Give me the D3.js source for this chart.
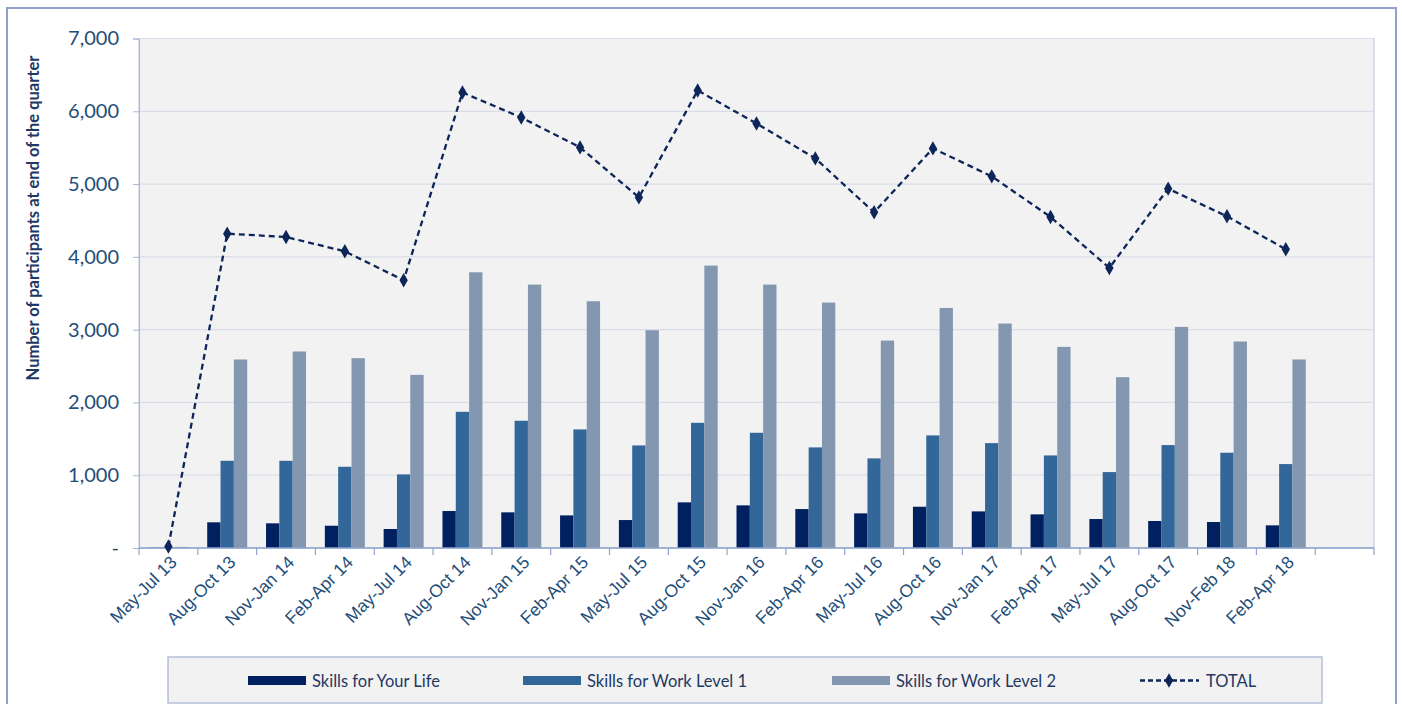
<!DOCTYPE html>
<html><head><meta charset="utf-8">
<script src="https://cdn.jsdelivr.net/npm/d3@7"></script>
<style>
html,body{margin:0;padding:0;background:#fff;}
svg{display:block;font-family:Lato,"Open Sans",sans-serif;}
</style></head>
<body>
<svg id="c" width="1402" height="704"></svg>
<script>
const categories = ["May-Jul 13","Aug-Oct 13","Nov-Jan 14","Feb-Apr 14","May-Jul 14","Aug-Oct 14","Nov-Jan 15","Feb-Apr 15","May-Jul 15","Aug-Oct 15","Nov-Jan 16","Feb-Apr 16","May-Jul 16","Aug-Oct 16","Nov-Jan 17","Feb-Apr 17","May-Jul 17","Aug-Oct 17","Nov-Feb 18","Feb-Apr 18"];
const skillsYourLife = [5,353,339,306,261,508,490,448,384,627,586,535,476,567,503,462,398,371,357,311];
const skillsWorkL1   = [8,1198,1198,1116,1011,1871,1748,1629,1409,1720,1583,1382,1231,1547,1441,1272,1043,1414,1309,1153];
const skillsWorkL2   = [15,2590,2700,2608,2379,3788,3619,3390,2992,3880,3619,3372,2850,3298,3084,2763,2347,3038,2837,2590];
const total          = [20,4319,4273,4076,3678,6258,5915,5504,4817,6286,5833,5353,4612,5490,5106,4548,3848,4937,4557,4104];
const seriesNames = ["Skills for Your Life","Skills for Work Level 1","Skills for Work Level 2"];
const totalName = "TOTAL";
const yTicks = [0,1000,2000,3000,4000,5000,6000,7000];
const yTitle = "Number of participants at end of the quarter";

const colors = ["#002060","#336699","#8497b0"];
const lineColor = "#0d2559";
const textColor = "#1f4e79";

const svg = d3.select("#c");
svg.append("rect").attr("x",7).attr("y",8).attr("width",1389).attr("height",704)
  .attr("fill","#fff").attr("stroke","#8ea2c8").attr("stroke-width",2);

const L=139, R=1374, T=38.5, B=548;
const domain = categories.concat(["_end"]);
const x = d3.scaleBand().domain(domain).range([L,R]).padding(0);
const y = d3.scaleLinear().domain([0,7000]).range([B,T]);
const bw = x.bandwidth();
const xs = d3.scaleBand().domain(seriesNames).range([bw*0.16, bw*0.84]).padding(0);

svg.append("rect").attr("x",L).attr("y",T).attr("width",R-L).attr("height",B-T)
  .attr("fill","#f2f2f2").attr("stroke","#b9c4dc").attr("stroke-width",1);

svg.append("g").selectAll("line").data(yTicks.filter(d=>d>0)).join("line")
  .attr("x1",L).attr("x2",R).attr("y1",d=>y(d)).attr("y2",d=>y(d))
  .attr("stroke","#d8dde8").attr("stroke-width",1.2);

const yAxis = svg.append("g").attr("transform",`translate(${L},0)`)
  .call(d3.axisLeft(y).tickValues(yTicks).tickSize(6).tickPadding(14)
    .tickFormat(d=> d===0 ? "-" : d3.format(",")(d)));
yAxis.select(".domain").attr("stroke","#a9b6d4");
yAxis.selectAll(".tick line").attr("stroke","#a9b6d4");
yAxis.selectAll("text").attr("fill",textColor).style("font-size","20px").style("font-family","Lato");

svg.append("text").attr("transform","translate(39,218) rotate(-90)")
  .attr("text-anchor","middle").attr("fill","#1f3864")
  .style("font-size","16.5px").style("font-weight","bold").text(yTitle);

const seriesData = [skillsYourLife, skillsWorkL1, skillsWorkL2];
seriesData.forEach((vals,si)=>{
  svg.append("g").selectAll("rect").data(vals).join("rect")
    .attr("x",(d,i)=>x(categories[i])+xs(seriesNames[si]))
    .attr("width",xs.bandwidth())
    .attr("y",d=>y(d)).attr("height",d=>B-y(d))
    .attr("fill",colors[si]);
});

const xAxis = svg.append("g").attr("transform",`translate(0,${B})`)
  .call(d3.axisBottom(x).tickValues(categories).tickSize(0).tickPadding(10));
xAxis.select(".domain").remove();
xAxis.selectAll("text").attr("fill",textColor).style("font-size","17.5px")
  .attr("text-anchor","end").attr("dy","0.35em")
  .attr("transform","translate(-2,4) rotate(-45)");
svg.append("line").attr("x1",L).attr("x2",R).attr("y1",B).attr("y2",B)
  .attr("stroke","#8ea4cc").attr("stroke-width",1.5);
svg.append("g").selectAll("line").data(domain.map(d=>x(d)).concat([R])).join("line")
  .attr("x1",d=>d).attr("x2",d=>d).attr("y1",B).attr("y2",B+7)
  .attr("stroke","#8ea4cc").attr("stroke-width",1.2);

const line = d3.line().x((d,i)=>x(categories[i])+bw/2).y(d=>y(d));
svg.append("path").datum(total).attr("d",line).attr("fill","none")
  .attr("stroke",lineColor).attr("stroke-width",2.3).attr("stroke-dasharray","6,4");
const diamond = d3.symbol().type(d3.symbolDiamond).size(60);
svg.append("g").selectAll("path").data(total).join("path")
  .attr("d",diamond).attr("transform",(d,i)=>`translate(${x(categories[i])+bw/2},${y(d)})`)
  .attr("fill",lineColor);

svg.append("rect").attr("x",168).attr("y",657).attr("width",1154).attr("height",46)
  .attr("fill","#f2f2f2").attr("stroke","#b4c0d8").attr("stroke-width",1.5);
const legX = [248,523,832];
seriesNames.forEach((n,i)=>{
  svg.append("rect").attr("x",legX[i]).attr("y",676).attr("width",58).attr("height",9).attr("fill",colors[i]);
  svg.append("text").attr("x",legX[i]+64).attr("y",681).attr("dy","0.35em")
    .attr("fill","#1f3864").style("font-size","16.5px").text(n);
});
svg.append("line").attr("x1",1140).attr("x2",1199).attr("y1",680.5).attr("y2",680.5)
  .attr("stroke",lineColor).attr("stroke-width",2.3).attr("stroke-dasharray","5,3");
svg.append("path").attr("d",diamond).attr("transform","translate(1169,680.5)").attr("fill",lineColor);
svg.append("text").attr("x",1206).attr("y",681).attr("dy","0.35em")
  .attr("fill","#1f3864").style("font-size","16.5px").text(totalName);
</script>
</body></html>
